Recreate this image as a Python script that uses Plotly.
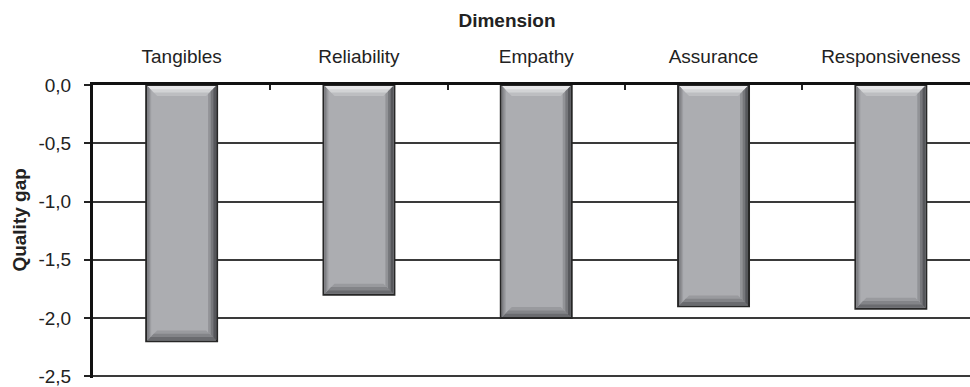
import plotly.graph_objects as go

categories = ["Tangibles", "Reliability", "Empathy", "Assurance", "Responsiveness"]
quality_gap = [-2.2, -1.8, -2.0, -1.9, -1.92]
y_ticks = [0.0, -0.5, -1.0, -1.5, -2.0, -2.5]
y_ticktext = [f"{v:.1f}".replace(".", ",") for v in y_ticks]

positions = list(range(len(categories)))
boundaries = [p + 0.5 for p in positions[:-1]]

BAR_W = 0.40
PX_X = 177.3   # pixels per category unit
PX_Y = 117.7   # pixels per 1.0 of quality gap

fig = go.Figure()
fig.add_trace(go.Bar(
    x=positions, y=quality_gap, width=BAR_W,
    marker=dict(color="#acadb1", line=dict(color="#262626", width=2)),
    hoverinfo="skip", showlegend=False,
))

# bevel effect drawn in data coordinates from the same arrays
def band_shapes(c, v):
    ox, oy = 1.0 / PX_X, 1.0 / PX_Y
    xl, xr = c - BAR_W / 2 + ox, c + BAR_W / 2 - ox
    yt, yb = 0 - oy, v + oy
    out = []
    specs = {
        "top": (10, ["#bdbec1", "#d2d3d5", "#e6e6e8"]),
        "bottom": (10, ["#999a9e", "#838488", "#6a6b6f"]),
        "right": (8, ["#929397", "#76777b", "#56575b"]),
        "left": (4, ["#9d9ea2", "#8c8d91", "#7c7d81"]),
    }
    for side, (depth, cols) in specs.items():
        for k, col in enumerate(cols):
            d = depth * (3 - k) / 3
            dx, dy = d / PX_X, d / PX_Y
            if side == "top":
                pts = [(xl, yt), (xr, yt), (xr - dx, yt - dy), (xl + dx, yt - dy)]
            elif side == "bottom":
                pts = [(xl, yb), (xr, yb), (xr - dx, yb + dy), (xl + dx, yb + dy)]
            elif side == "right":
                pts = [(xr, yt), (xr, yb), (xr - dx, yb + dy), (xr - dx, yt - dy)]
            else:
                pts = [(xl, yt), (xl, yb), (xl + dx, yb + dy), (xl + dx, yt - dy)]
            path = "M " + " L ".join(f"{px},{py}" for px, py in pts) + " Z"
            out.append(dict(type="path", path=path, xref="x", yref="y",
                            fillcolor=col, line=dict(width=0), layer="above"))
    return out

shapes = []
for c, v in zip(positions, quality_gap):
    shapes += band_shapes(c, v)

font_family = "Liberation Sans, Arial, Helvetica, sans-serif"
FS = 19

M_T, M_B = 85, 6
plot_w, plot_h = 970 - 93, 387 - M_T - M_B

fig.update_layout(
    width=970, height=387,
    margin=dict(l=93, r=0, t=M_T, b=M_B),
    paper_bgcolor="white", plot_bgcolor="white",
    separators=", ",
    font=dict(family=font_family, size=FS, color="#222222"),
    shapes=shapes,
    title=dict(text="<b>Dimension</b>", x=507 / 970, xref="container", xanchor="center",
               y=1 - 20 / 387, yref="container", yanchor="middle",
               font=dict(size=FS, color="#222222", family=font_family)),
    xaxis=dict(
        type="linear", side="top",
        range=[-0.5, 4.5 - 9.5 / PX_X],
        tickmode="array", tickvals=positions, ticktext=categories,
        ticks="", showgrid=False, zeroline=False,
        showline=True, linecolor="#111111", linewidth=3,
        ticklabelstandoff=11,
        minor=dict(tickmode="array", tickvals=boundaries, ticks="inside",
                   ticklen=5, tickwidth=1.5, tickcolor="#222222", showgrid=False),
    ),
    yaxis=dict(
        range=[-2.515, 0],
        tickmode="array", tickvals=y_ticks, ticktext=y_ticktext,
        ticks="outside", ticklen=6, tickwidth=1.5, tickcolor="#222222",
        showgrid=True, gridcolor="#3a3a3a", gridwidth=1.5,
        zeroline=False,
        showline=True, linecolor="#111111", linewidth=3,
        ticklabelstandoff=9, ticklabeloverflow="allow",
    ),
    annotations=[dict(
        text="<b>Quality gap</b>", textangle=-90,
        x=(20 - 93) / plot_w, xref="paper",
        y=(387 - M_B - 222) / plot_h, yref="paper",
        xanchor="center", yanchor="middle", showarrow=False,
        font=dict(size=FS, color="#222222", family=font_family),
    )],
)

fig.write_html("out.html")
